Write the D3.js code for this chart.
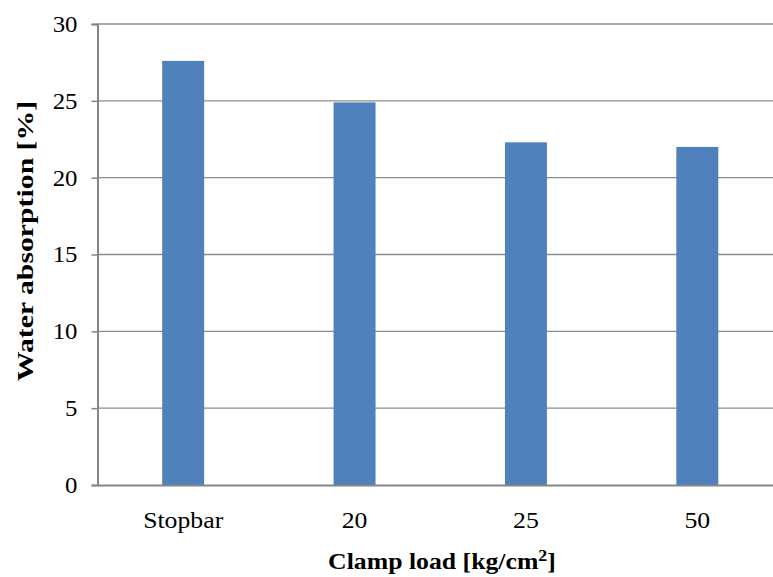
<!DOCTYPE html>
<html><head><meta charset="utf-8">
<script src="https://cdn.jsdelivr.net/npm/d3@7"></script>
<style>body{margin:0;background:#fff}svg{display:block}</style>
</head><body>
<script>
const categories = ["Stopbar", "20", "25", "50"];
const values = [27.6, 24.9, 22.3, 22.0];
const yTicks = [0, 5, 10, 15, 20, 25, 30];
const xTitle = "Clamp load [kg/cm";
const xTitleSup = "2";
const xTitleEnd = "]";
const yTitle = "Water absorption [%]";

const W = 773, H = 577;
const FONT = "Liberation Serif, Times New Roman, serif";
const m = {left: 97.5, top: 24, bottom: 92};
const plotRight = 783;
const svg = d3.select("body").append("svg").attr("width", W).attr("height", H);

const x = d3.scaleBand().domain(categories).range([m.left, plotRight]).padding(0);
const y = d3.scaleLinear().domain([0, 30]).range([H - m.bottom, m.top]);
const barW = x.bandwidth() * 0.245;

// gridlines
svg.append("g").selectAll("line").data(yTicks.filter(t => t > 0)).join("line")
  .attr("x1", m.left).attr("x2", plotRight)
  .attr("y1", d => y(d)).attr("y2", d => y(d))
  .attr("stroke", "#8c8c8c").attr("stroke-width", 1.3);

// bars
svg.append("g").selectAll("rect").data(values).join("rect")
  .attr("x", (d, i) => x(categories[i]) + x.bandwidth() / 2 - barW / 2)
  .attr("width", barW)
  .attr("y", d => y(d))
  .attr("height", d => y(0) - y(d))
  .attr("fill", "#4F81BD");

// y axis
const yAx = svg.append("g").attr("transform", `translate(${m.left},0)`)
  .call(d3.axisLeft(y).tickValues(yTicks).tickSize(6).tickPadding(14));
yAx.select(".domain").attr("stroke", "#868686").attr("stroke-width", 2);
yAx.selectAll(".tick line").attr("stroke", "#868686").attr("stroke-width", 1.5);
yAx.selectAll("text").attr("font-family", FONT).attr("font-size", 23).attr("fill", "#000")
  .attr("x", -18.5).attr("transform", "scale(1.08,1)");

// x axis
const xAx = svg.append("g").attr("transform", `translate(0,${y(0)})`)
  .call(d3.axisBottom(x).tickSize(0).tickPadding(27));
xAx.select(".domain").attr("stroke", "#868686").attr("stroke-width", 2);
xAx.selectAll("text").attr("font-family", FONT).attr("font-size", 23).attr("fill", "#000")
  .attr("transform", "scale(1.12,1)");

// titles
const xt = svg.append("g").attr("transform", "translate(442,569)")
  .append("text").attr("text-anchor", "middle").attr("transform", "scale(1.12,1)")
  .attr("font-family", FONT).attr("font-size", 23).attr("font-weight", "bold");
xt.append("tspan").text(xTitle);
xt.append("tspan").attr("font-size", 16).attr("dy", -8).text(xTitleSup);
xt.append("tspan").attr("dy", 8).text(xTitleEnd);

svg.append("g").attr("transform", "translate(33,241) rotate(-90)")
  .append("text").attr("text-anchor", "middle").attr("transform", "scale(1.24,1)")
  .attr("font-family", FONT).attr("font-size", 24).attr("font-weight", "bold").text(yTitle);
</script>
</body></html>
